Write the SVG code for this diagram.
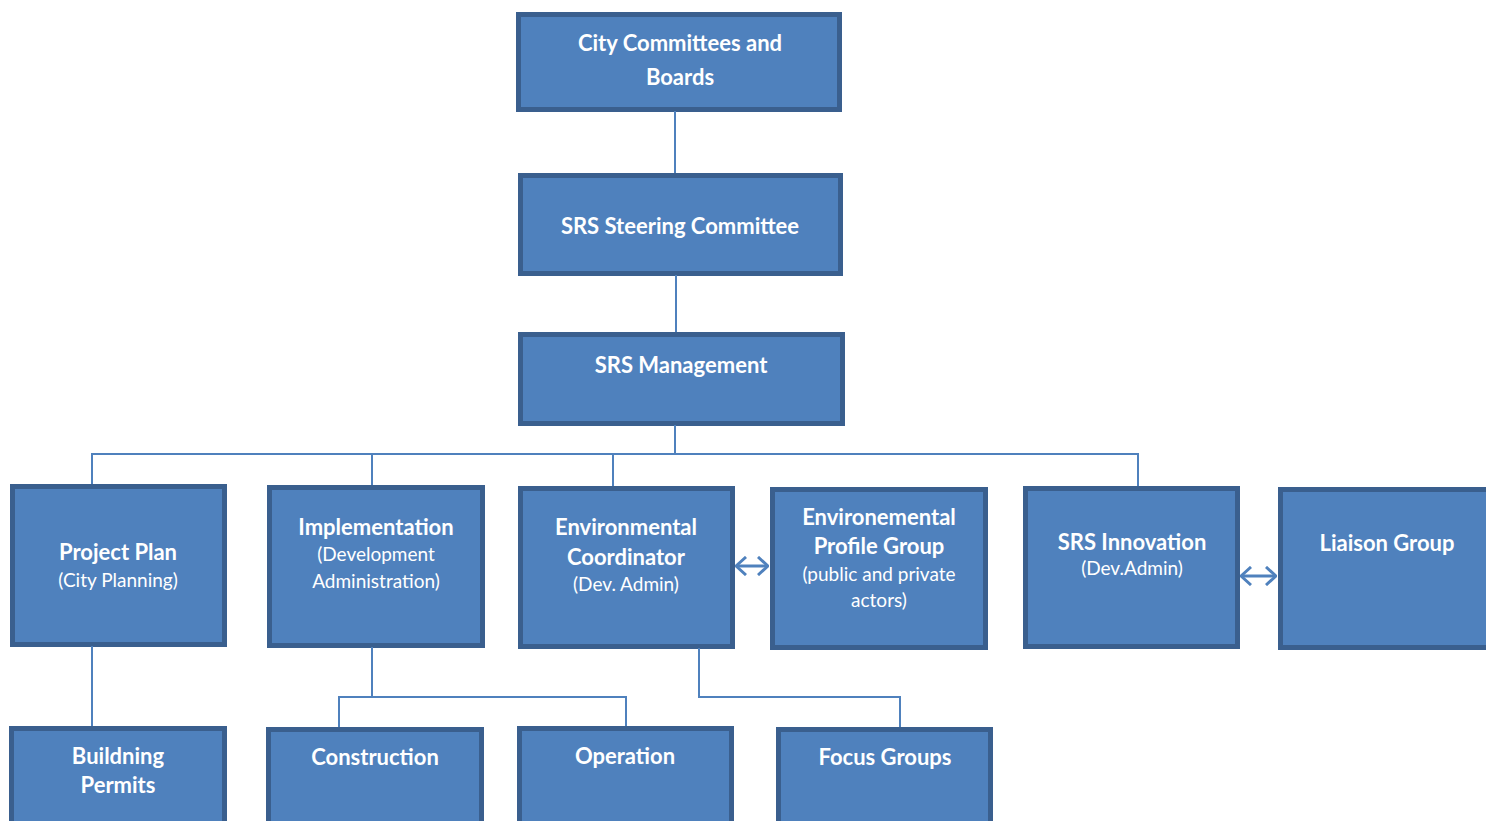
<svg xmlns="http://www.w3.org/2000/svg" width="1486" height="821" viewBox="0 0 1486 821">
<style>
.box{fill:#4F81BD;stroke:#3A5F8E;stroke-width:5;}
.t{font-family:Lato,"Liberation Sans",sans-serif;font-weight:bold;font-size:22px;fill:#fff;text-anchor:middle;}
.s{font-family:Lato,"Liberation Sans",sans-serif;font-size:19px;fill:#fff;text-anchor:middle;}
.c{fill:none;stroke:#4F81BD;stroke-width:2;}
.a{fill:none;stroke:#4F81BD;stroke-width:3;}
</style>
<defs>
<marker id="ch" viewBox="0 0 12 20" refX="11" refY="10" markerWidth="12" markerHeight="20" markerUnits="userSpaceOnUse" orient="auto-start-reverse">
<path d="M1,1 L11,10 L1,19" fill="none" stroke="#4F81BD" stroke-width="3"/>
</marker>
</defs>
<rect width="1486" height="821" fill="#fff"/>
<g id="city"><rect class="box" x="518.5" y="14.5" width="321" height="95"/>
<text class="t" x="680" y="51">City Committees and</text><text class="t" x="680" y="85">Boards</text></g>
<g id="steering"><rect class="box" x="520.5" y="175.5" width="320" height="98"/>
<text class="t" x="680" y="234">SRS Steering Committee</text></g>
<g id="management"><rect class="box" x="520.5" y="334.5" width="322" height="89"/>
<text class="t" x="681" y="373">SRS Management</text></g>
<g id="projectplan"><rect class="box" x="12.5" y="486.5" width="212" height="158"/>
<text class="t" x="118" y="560">Project Plan</text><text class="s" x="118" y="587">(City Planning)</text></g>
<g id="implementation"><rect class="box" x="269.5" y="487.5" width="213" height="158"/>
<text class="t" x="376" y="535">Implementation</text><text class="s" x="376" y="561">(Development</text><text class="s" x="376" y="588">Administration)</text></g>
<g id="envcoord"><rect class="box" x="520.5" y="488.5" width="212" height="158"/>
<text class="t" x="626" y="535">Environmental</text><text class="t" x="626" y="565">Coordinator</text><text class="s" x="626" y="591">(Dev. Admin)</text></g>
<g id="envprofile"><rect class="box" x="772.5" y="489.5" width="213" height="158"/>
<text class="t" x="879" y="525">Environemental</text><text class="t" x="879" y="554">Profile Group</text><text class="s" x="879" y="581">(public and private</text><text class="s" x="879" y="607">actors)</text></g>
<g id="innovation"><rect class="box" x="1025.5" y="488.5" width="212" height="158"/>
<text class="t" x="1132" y="550">SRS Innovation</text><text class="s" x="1132" y="575">(Dev.Admin)</text></g>
<g id="liaison"><rect class="box" x="1280.5" y="489.5" width="220" height="158"/>
<text class="t" x="1387" y="551">Liaison Group</text></g>
<g id="permits"><rect class="box" x="11.5" y="728.5" width="213" height="110"/>
<text class="t" x="118" y="764">Buildning</text><text class="t" x="118" y="793">Permits</text></g>
<g id="construction"><rect class="box" x="268.5" y="729.5" width="213" height="110"/>
<text class="t" x="375" y="765">Construction</text></g>
<g id="operation"><rect class="box" x="519.5" y="728.5" width="212" height="110"/>
<text class="t" x="625" y="764">Operation</text></g>
<g id="focus"><rect class="box" x="778.5" y="729.5" width="212" height="110"/>
<text class="t" x="885" y="765">Focus Groups</text></g>
<g id="connectors">
<path class="c" d="M675,111V173"/>
<path class="c" d="M676,275V332"/>
<path class="c" d="M675,425V454M92,484V454H1138V486M372,454V485M613,454V486"/>
<path class="c" d="M92,646V726"/>
<path class="c" d="M372,647V697M339,727V697H626V726"/>
<path class="c" d="M699,648V697H900V727"/>
<path class="a" d="M736,566H768" marker-start="url(#ch)" marker-end="url(#ch)"/>
<path class="a" d="M1241,576H1276" marker-start="url(#ch)" marker-end="url(#ch)"/>
</g>
</svg>
